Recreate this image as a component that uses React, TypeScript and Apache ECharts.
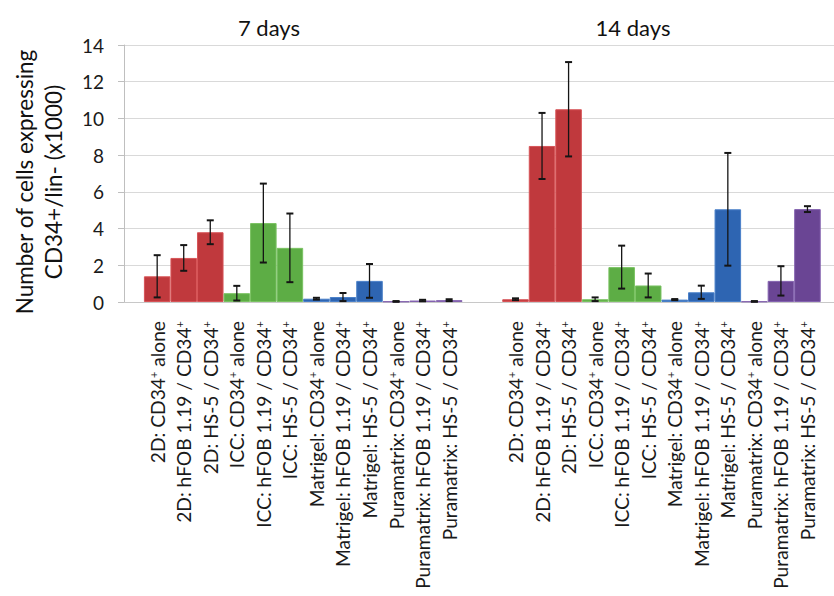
import React, { useEffect, useRef } from "react";
import * as echarts from "echarts";

// ---- data ----
const categories = [
  "2D: CD34+ alone",
  "2D: hFOB 1.19 / CD34+",
  "2D: HS-5 / CD34+",
  "ICC: CD34+ alone",
  "ICC: hFOB 1.19 / CD34+",
  "ICC: HS-5 / CD34+",
  "Matrigel: CD34+ alone",
  "Matrigel: hFOB 1.19 / CD34+",
  "Matrigel: HS-5 / CD34+",
  "Puramatrix: CD34+ alone",
  "Puramatrix: hFOB 1.19 / CD34+",
  "Puramatrix: HS-5 / CD34+",
];
const groupTitles = ["7 days", "14 days"];
const days7Mean = [1.4, 2.4, 3.8, 0.48, 4.3, 2.95, 0.18, 0.27, 1.15, 0.03, 0.08, 0.1];
const days7Err = [1.15, 0.7, 0.65, 0.4, 2.15, 1.87, 0.05, 0.22, 0.92, 0.02, 0.04, 0.05];
const days14Mean = [0.15, 8.5, 10.5, 0.15, 1.9, 0.9, 0.13, 0.53, 5.05, 0.03, 1.15, 5.06];
const days14Err = [0.05, 1.8, 2.57, 0.1, 1.17, 0.65, 0.03, 0.36, 3.07, 0.02, 0.8, 0.16];
const yTicks = [0, 2, 4, 6, 8, 10, 12, 14];
const yTitle = ["Number of cells expressing", "CD34+/lin- (x1000)"];

// ---- layout / style ----
const W = 834;
const H = 596;
const GRID_LEFT = 124;
const GRID_RIGHT = 0;
const GRID_TOP = 45;
const GRID_BOTTOM = H - 302;
const X_MIN = -1.25;
const X_MAX = 25.5;
const GROUP_OFFSETS = [0, 13.5];
const PX_PER_UNIT = (W - GRID_LEFT - GRID_RIGHT) / (X_MAX - X_MIN);
const FILLS = ["#C0393D", "#5DAD45", "#2E65B2", "#6A4594"];
const BORDERS = ["#D75458", "#7AC262", "#4A80C9", "#8463B0"];
const FONT = "Lato, 'Open Sans', sans-serif";

function colorIndex(i: number) {
  return Math.floor(i / 3);
}

function labelFor(v: number): string {
  const r = Math.round(v * 4) / 4;
  for (let g = 0; g < GROUP_OFFSETS.length; g++) {
    const k = r - GROUP_OFFSETS[g];
    if (Number.isInteger(k) && k >= 0 && k < categories.length) {
      return categories[k].replace(/CD34\+/g, "CD34{sup|+}");
    }
  }
  return "";
}

export default function App() {
  const ref = useRef<HTMLDivElement>(null);
  useEffect(() => {
    if (!ref.current) return;
    const chart = echarts.init(ref.current, undefined, { renderer: "svg" });
    const means = [days7Mean, days14Mean];
    const errs = [days7Err, days14Err];
    const barData: any[] = [];
    const errData: any[] = [];
    means.forEach((arr, g) => {
      arr.forEach((m, i) => {
        const x = GROUP_OFFSETS[g] + i;
        const ci = colorIndex(i);
        barData.push({
          value: [x, m],
          itemStyle: { color: FILLS[ci], borderColor: BORDERS[ci], borderWidth: 1 },
        });
        errData.push([x, m - errs[g][i], m + errs[g][i]]);
      });
    });

    const option: any = {
      animation: false,
      backgroundColor: "#ffffff",
      textStyle: { fontFamily: FONT },
      title: groupTitles.map((t, i) => ({
        text: t,
        left: i === 0 ? 264 : 628,
        top: 11,
        textAlign: "center",
        textStyle: { fontSize: 22, fontWeight: "normal", color: "#111", fontFamily: FONT },
      })),
      grid: {
        left: GRID_LEFT,
        right: GRID_RIGHT,
        top: GRID_TOP,
        bottom: GRID_BOTTOM,
        outerBoundsMode: "none",
      },
      xAxis: {
        type: "value",
        min: X_MIN,
        max: X_MAX,
        interval: 0.25,
        axisLine: { show: true, onZero: false, lineStyle: { color: "#C8C8C8", width: 1 } },
        axisTick: { show: false },
        splitLine: { show: false },
        axisLabel: {
          rotate: 90,
          margin: 19,
          fontSize: 19.2,
          color: "#1a1a1a",
          fontFamily: FONT,
          showMinLabel: false,
          showMaxLabel: false,
          formatter: (v: number) => labelFor(v),
          rich: {
            sup: { fontSize: 11, verticalAlign: "top", color: "#1a1a1a", fontFamily: FONT },
          },
        },
      },
      yAxis: {
        type: "value",
        min: 0,
        max: 14,
        interval: 2,
        axisLine: { show: true, onZero: false, lineStyle: { color: "#BFBFBF" } },
        axisTick: { show: true, length: 6, lineStyle: { color: "#BFBFBF" } },
        splitLine: { show: true, lineStyle: { color: "#D9D9D9", width: 1 } },
        axisLabel: {
          margin: 20,
          fontSize: 19,
          color: "#1a1a1a",
          fontFamily: FONT,
          formatter: (v: number) => (yTicks.includes(v) ? String(v) : ""),
        },
      },
      graphic: [
        {
          type: "text",
          x: 39,
          y: 182,
          rotation: Math.PI / 2,
          style: {
            text: yTitle.join("\n"),
            fontSize: 22.5,
            lineHeight: 29,
            fill: "#111",
            fontFamily: FONT,
            textAlign: "center",
            textVerticalAlign: "middle",
          },
        },
      ],
      series: [
        {
          type: "bar",
          data: barData,
          barWidth: PX_PER_UNIT,
          barGap: "-100%",
        },
        {
          type: "custom",
          data: errData,
          encode: { x: 0, y: [1, 2] },
          z: 10,
          renderItem: (params: any, api: any) => {
            const x = api.value(0);
            const lo = api.value(1);
            const hi = api.value(2);
            const p1 = api.coord([x, hi]);
            const p2 = api.coord([x, lo]);
            const cap = 3.5;
            const st = { stroke: "#151515", lineWidth: 1.3 };
            return {
              type: "group",
              children: [
                { type: "line", shape: { x1: p1[0], y1: p1[1], x2: p2[0], y2: p2[1] }, style: st },
                { type: "line", shape: { x1: p1[0] - cap, y1: p1[1], x2: p1[0] + cap, y2: p1[1] }, style: { ...st, lineWidth: 2 } },
                { type: "line", shape: { x1: p2[0] - cap, y1: p2[1], x2: p2[0] + cap, y2: p2[1] }, style: { ...st, lineWidth: 2 } },
              ],
            };
          },
        },
      ],
    };
    chart.setOption(option);
    return () => chart.dispose();
  }, []);
  return (
    <div
      ref={ref}
      style={{ position: "absolute", left: 0, top: 0, width: W, height: H }}
    />
  );
}
